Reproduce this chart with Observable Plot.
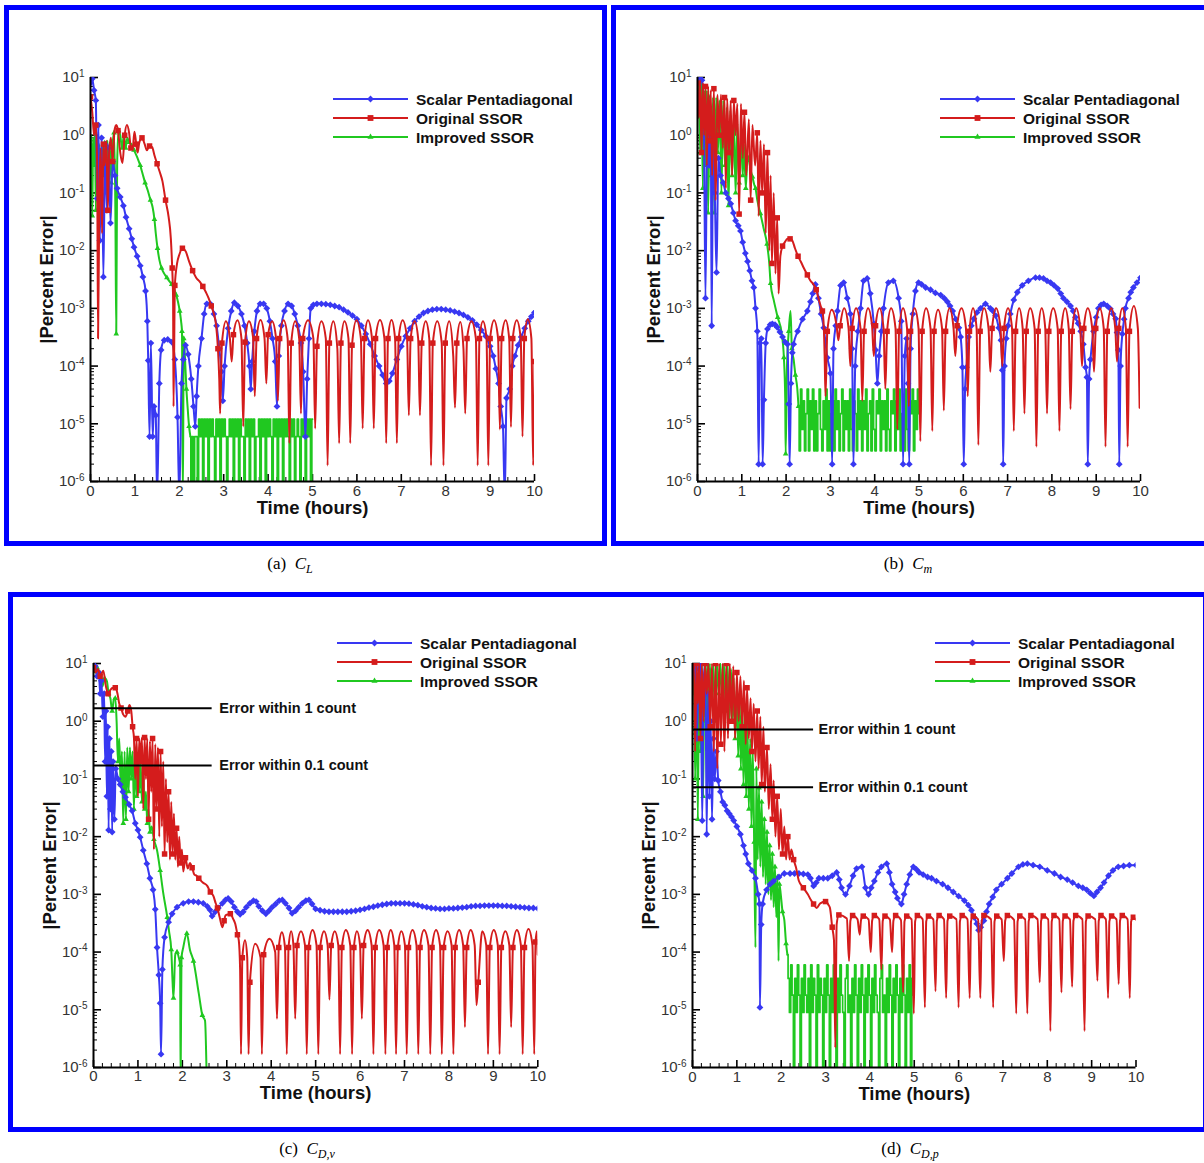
<!DOCTYPE html>
<html><head><meta charset="utf-8">
<script src="https://cdn.jsdelivr.net/npm/d3@7"></script>
<script src="https://cdn.jsdelivr.net/npm/@observablehq/plot@0.6"></script>
<style>
html,body{margin:0;padding:0;background:#fff}
body{width:1204px;height:1163px;position:relative;overflow:hidden;font-family:"Liberation Sans",Arial,Helvetica,sans-serif}
.box{position:absolute;border:5px solid #0000ff;box-sizing:border-box}
.cap{position:absolute;font-family:"Liberation Serif","Times New Roman",serif;font-size:17px;transform:translateX(-50%);white-space:nowrap;color:#000}
.cap sub{font-size:12px;font-style:italic}
svg{position:absolute}
</style></head><body>
<div class="box" style="left:4px;top:5px;width:603px;height:541px"></div>
<div class="box" style="left:611px;top:5px;width:600px;height:541px"></div>
<div class="box" style="left:8px;top:592px;width:1200px;height:540px"></div>
<div class="cap" style="left:290px;top:554px">(a)&nbsp;&nbsp;<i>C</i><sub>L</sub></div>
<div class="cap" style="left:908px;top:554px">(b)&nbsp;&nbsp;<i>C</i><sub>m</sub></div>
<div class="cap" style="left:307px;top:1139px">(c)&nbsp;&nbsp;<i>C</i><sub>D,v</sub></div>
<div class="cap" style="left:910px;top:1139px">(d)&nbsp;&nbsp;<i>C</i><sub>D,p</sub></div>
<script>
// ---------- labels / ticks ----------
const seriesNames = ["Scalar Pentadiagonal", "Original SSOR", "Improved SSOR"];
const xMajor = [0,1,2,3,4,5,6,7,8,9,10];
const xLabels = ["0","1","2","3","4","5","6","7","8","9","10"];
const yMajor = [1e-6,1e-5,1e-4,1e-3,1e-2,1e-1,1,10];
const yLabels = ["-6","-5","-4","-3","-2","-1","0","1"];
const annLabels = ["Error within 1 count", "Error within 0.1 count"];
const annC = [1.68, 0.171];
const annD = [0.72, 0.072];

// ---------- panel (a) C_L ----------
const blueA = [[0,8],[0.04,9.5],[0.08,6],[0.12,4],[0.15,0.08],[0.18,1.5],[0.21,0.015],[0.25,0.9],[0.29,0.0035],[0.33,0.7],[0.37,0.05],[0.41,0.6],[0.45,0.03],[0.5,0.35],[0.55,0.2],[0.6,0.12],[0.67,0.085],[0.74,0.06],[0.8,0.038],[0.87,0.024],[0.93,0.016],[0.98,0.0115],[1.05,0.008],[1.12,0.0055],[1.18,0.0035],[1.24,0.002],[1.28,0.0006],[1.3,1.25e-4],[1.33,6e-6],[1.36,2.5e-4],[1.4,6e-6],[1.43,2e-5],[1.47,1.4e-5],[1.5,5e-7],[1.55,5e-5],[1.59,1.9e-4],[1.66,2.8e-4],[1.74,2.9e-4],[1.83,2.6e-4],[1.9,1.3e-4],[1.96,1.3e-5],[2.0,5e-7],[2.05,5e-5],[2.09,1.3e-4],[2.14,2.3e-4],[2.2,1.6e-4],[2.27,6e-5],[2.32,2e-5],[2.36,9e-6],[2.39,3e-5],[2.43,1e-4],[2.5,3e-4],[2.56,8e-4],[2.62,1.2e-3],[2.7,1.2e-3],[2.78,8e-4],[2.84,5e-4],[2.9,2e-4],[2.95,8e-5],[2.98,2.5e-5],[3.02,1e-4],[3.1,4.5e-4],[3.17,9e-4],[3.24,1.25e-3],[3.32,1.1e-3],[3.4,8e-4],[3.47,5e-4],[3.53,2.5e-4],[3.58,1e-4],[3.61,4e-5],[3.64,1.2e-4],[3.69,4e-4],[3.75,9e-4],[3.82,1.2e-3],[3.9,1.2e-3],[3.97,1e-3],[4.04,6e-4],[4.1,3e-4],[4.16,1.2e-4],[4.2,2e-5],[4.24,1.5e-4],[4.3,5e-4],[4.37,9e-4],[4.45,1.2e-3],[4.53,1.1e-3],[4.6,8e-4],[4.67,5e-4],[4.74,2.5e-4],[4.79,8e-5],[4.84,6e-6],[4.88,6e-5],[4.92,3e-4],[4.96,1e-3],[5.02,1.15e-3],[5.1,1.2e-3],[5.2,1.2e-3],[5.3,1.18e-3],[5.4,1.15e-3],[5.5,1.1e-3],[5.6,1.05e-3],[5.7,9.5e-4],[5.8,8.5e-4],[5.9,7.5e-4],[6.0,6.5e-4],[6.1,5e-4],[6.2,3.6e-4],[6.3,2.4e-4],[6.4,1.5e-4],[6.5,1e-4],[6.58,7e-5],[6.66,5e-5],[6.73,5.5e-5],[6.8,7.5e-5],[6.9,1.3e-4],[7.0,2.2e-4],[7.1,3.3e-4],[7.2,4.5e-4],[7.3,6e-4],[7.4,7.2e-4],[7.5,8.3e-4],[7.6,9e-4],[7.7,9.5e-4],[7.8,9.7e-4],[7.9,9.7e-4],[8.0,9.5e-4],[8.1,9.2e-4],[8.2,8.8e-4],[8.3,8.3e-4],[8.4,7.7e-4],[8.5,7e-4],[8.6,6.2e-4],[8.7,5.2e-4],[8.8,4.2e-4],[8.9,3.3e-4],[9.0,2.2e-4],[9.07,1.5e-4],[9.13,9e-5],[9.19,5e-5],[9.24,2e-5],[9.29,9e-6],[9.33,5e-7],[9.37,2.8e-5],[9.44,4e-5],[9.5,1e-4],[9.56,1.5e-4],[9.63,2.3e-4],[9.7,3.2e-4],[9.78,4.5e-4],[9.86,6e-4],[9.93,7.2e-4],[10,8.5e-4]];
const redA_early = [[0,4.6],[0.04,2.5],[0.08,1],[0.12,1.5],[0.15,0.3],[0.17,3e-4],[0.2,0.1],[0.23,0.6],[0.26,0.02],[0.29,0.7],[0.32,0.3],[0.36,0.8],[0.39,0.05],[0.42,0.5],[0.46,0.9],[0.5,0.35],[0.54,1.2],[0.58,1.5],[0.62,1.2],[0.67,0.5],[0.72,0.33],[0.77,1.0],[0.82,1.5],[0.87,1.1],[0.91,0.6],[0.95,0.6],[0.99,1.15],[1.03,0.7],[1.06,0.5],[1.1,0.75],[1.16,0.9],[1.22,0.7],[1.27,0.55],[1.33,0.65],[1.39,0.62],[1.44,0.45],[1.5,0.32],[1.56,0.23],[1.62,0.16],[1.69,0.075],[1.76,0.038],[1.81,0.016],[1.84,0.005],[1.86,0.0015],[1.87,2e-5],[1.9,0.0025],[1.95,0.006],[2.0,0.0085],[2.07,0.011],[2.15,0.0095],[2.22,0.0065],[2.3,0.0045],[2.38,0.0034],[2.46,0.0029],[2.53,0.0024],[2.6,0.0019],[2.66,0.0015],[2.72,0.0011],[2.78,8e-4],[2.83,5e-4],[2.87,2e-4],[2.9,6e-5]];
const redA_arches = [[2.92,1.5e-5],[2.96,2.5e-4],[3.05,6e-4],[3.14,3e-4],[3.18,1.2e-4],[3.22,3.5e-4],[3.31,6.2e-4],[3.40,3e-4],[3.44,9e-6],[3.48,2.6e-4],[3.57,6e-4],[3.66,3.2e-4],[3.70,3e-5],[3.74,3e-4],[3.83,6.3e-4],[3.92,3e-4],[3.96,5e-5],[4.0,3.5e-4],[4.09,6e-4],[4.18,3e-4],[4.22,2.5e-5],[4.26,3e-4],[4.35,6.2e-4],[4.44,3e-4],[4.48,4.6e-6],[4.52,2.5e-4],[4.61,6e-4],[4.70,3e-4],[4.74,1.5e-5],[4.78,3e-4],[4.90,6.2e-4],[5.02,3e-4],[5.06,8.3e-6],[5.10,2.2e-4],[5.20,6e-4],[5.30,3e-4],[5.34,1.9e-6],[5.38,2.5e-4],[5.47,6e-4],[5.56,2e-4],[5.60,4.6e-6],[5.64,2.5e-4],[5.72,6e-4],[5.81,3e-4],[5.85,4.6e-6],[5.89,2.3e-4],[5.99,6.2e-4],[6.09,3e-4],[6.13,8.3e-6],[6.17,3e-4],[6.25,6.2e-4],[6.34,3e-4],[6.38,8.3e-6],[6.42,3e-4],[6.52,6.3e-4],[6.62,3e-4],[6.66,4.6e-6],[6.70,3e-4],[6.78,6.3e-4],[6.86,3e-4],[6.90,4.6e-6],[6.94,3e-4],[7.03,6.2e-4],[7.13,3e-4],[7.17,1.4e-5],[7.21,3e-4],[7.30,6e-4],[7.38,3e-4],[7.42,1.4e-5],[7.46,2.5e-4],[7.55,6e-4],[7.63,3e-4],[7.67,1.9e-6],[7.71,2.5e-4],[7.81,6e-4],[7.91,2.5e-4],[7.95,1.9e-6],[7.99,2.5e-4],[8.08,6e-4],[8.17,1.5e-4],[8.21,1.9e-5],[8.25,2.5e-4],[8.33,5.8e-4],[8.40,2e-4],[8.44,1.5e-5],[8.48,3e-4],[8.58,6e-4],[8.68,3e-4],[8.72,1.9e-6],[8.76,3e-4],[8.84,6e-4],[8.92,3e-4],[8.96,1.9e-6],[9.0,3e-4],[9.09,6.2e-4],[9.18,3e-4],[9.22,8e-6],[9.26,3e-4],[9.35,6.2e-4],[9.43,3e-4],[9.47,8.8e-6],[9.51,3e-4],[9.60,6.2e-4],[9.69,3e-4],[9.73,6e-6],[9.77,3e-4],[9.85,6.5e-4],[9.93,3e-4],[9.97,1.9e-6],[10,1.2e-4]];
const greenA_early = [[0,0.5],[0.02,1.0],[0.04,0.04],[0.06,0.9],[0.08,0.3],[0.1,1.3],[0.12,0.05],[0.14,0.8],[0.17,0.15],[0.2,0.7],[0.23,0.04],[0.26,0.75],[0.29,0.2],[0.32,0.8],[0.35,0.1],[0.38,0.8],[0.41,0.3],[0.44,0.6],[0.47,0.15],[0.5,0.7],[0.53,1.1],[0.56,0.05],[0.58,3.6e-4],[0.6,0.3],[0.63,1.2],[0.67,1.0],[0.71,0.6],[0.75,1.0],[0.79,0.6],[0.83,0.9],[0.87,0.75],[0.92,0.7],[0.98,0.55],[1.06,0.4],[1.12,0.3],[1.17,0.22],[1.23,0.15],[1.29,0.11],[1.35,0.075],[1.4,0.056],[1.44,0.035],[1.47,0.02],[1.51,0.011],[1.55,0.007],[1.6,0.005],[1.66,0.004],[1.72,0.0034],[1.77,0.003],[1.83,0.0026],[1.88,0.0022],[1.93,0.0017],[1.97,0.0013],[2.01,9e-4],[2.04,6e-4],[2.06,4e-4],[2.08,5e-7],[2.1,3e-4],[2.13,1.3e-4],[2.16,4e-5],[2.19,1.8e-5],[2.22,9e-6],[2.25,6e-6]];
const greenA_noise = [[2.25,6e-6],[2.27,5e-7],[2.30,6e-6],[2.33,5e-7],[2.36,6e-6],[2.39,6e-6],[2.42,5e-7],[2.45,1.2e-5],[2.48,6e-6],[2.51,1.2e-5],[2.54,5e-7],[2.57,1.2e-5],[2.60,6e-6],[2.63,1.2e-5],[2.66,5e-7],[2.69,1.2e-5],[2.72,6e-6],[2.75,1.2e-5],[2.78,6e-6],[2.81,5e-7],[2.84,1.2e-5],[2.87,6e-6],[2.90,1.2e-5],[2.93,5e-7],[2.96,1.2e-5],[2.99,6e-6],[3.02,1.2e-5],[3.05,6e-6],[3.08,5e-7],[3.11,6e-6],[3.14,1.2e-5],[3.17,6e-6],[3.20,1.2e-5],[3.23,5e-7],[3.26,1.2e-5],[3.29,6e-6],[3.32,1.2e-5],[3.35,5e-7],[3.38,1.2e-5],[3.41,6e-6],[3.44,6e-6],[3.47,5e-7],[3.50,1.2e-5],[3.53,6e-6],[3.56,1.2e-5],[3.59,5e-7],[3.62,1.2e-5],[3.65,6e-6],[3.68,1.2e-5],[3.71,5e-7],[3.74,6e-6],[3.77,6e-6],[3.80,1.2e-5],[3.83,5e-7],[3.86,1.2e-5],[3.89,6e-6],[3.92,1.2e-5],[3.95,5e-7],[3.98,1.2e-5],[4.01,6e-6],[4.04,1.2e-5],[4.07,6e-6],[4.10,5e-7],[4.13,1.2e-5],[4.16,6e-6],[4.19,1.2e-5],[4.22,5e-7],[4.25,1.2e-5],[4.28,6e-6],[4.31,1.2e-5],[4.34,5e-7],[4.37,1.2e-5],[4.40,6e-6],[4.43,1.2e-5],[4.46,6e-6],[4.49,5e-7],[4.52,1.2e-5],[4.55,6e-6],[4.58,1.2e-5],[4.61,5e-7],[4.64,6e-6],[4.67,1.2e-5],[4.70,6e-6],[4.73,5e-7],[4.76,1.2e-5],[4.79,6e-6],[4.82,1.2e-5],[4.85,5e-7],[4.88,1.2e-5],[4.91,6e-6],[4.94,1.2e-5],[4.97,5e-7],[5.00,1.2e-5]];

// ---------- panel (b) C_m ----------
const blueB = [[0,9],[0.05,10],[0.1,9],[0.14,3],[0.18,1.5e-3],[0.22,2],[0.26,0.3],[0.3,1],[0.32,5e-4],[0.35,0.6],[0.39,0.1],[0.43,4.2e-3],[0.47,0.4],[0.52,0.2],[0.58,0.15],[0.64,0.1],[0.7,0.08],[0.75,0.065],[0.81,0.045],[0.86,0.033],[0.92,0.027],[0.97,0.022],[1.02,0.014],[1.08,0.009],[1.13,0.0065],[1.18,0.0045],[1.23,0.003],[1.27,0.0023],[1.31,0.001],[1.35,4e-4],[1.38,2e-6],[1.41,2.5e-4],[1.44,3e-4],[1.47,2e-6],[1.5,2.6e-5],[1.54,2.5e-4],[1.58,4.4e-4],[1.64,5.2e-4],[1.69,5.4e-4],[1.75,5.2e-4],[1.8,4.7e-4],[1.86,3.9e-4],[1.92,3.2e-4],[1.98,2.6e-4],[2.03,2.4e-4],[2.06,2.2e-5],[2.08,2e-6],[2.11,5e-5],[2.14,1.7e-4],[2.17,2.4e-4],[2.26,4e-4],[2.37,6.5e-4],[2.48,9e-4],[2.55,1.3e-3],[2.6,1.8e-3],[2.66,2.6e-3],[2.73,1.5e-3],[2.79,8e-4],[2.85,4.6e-4],[2.93,1.4e-4],[3.0,7.5e-5],[3.04,2e-6],[3.07,2e-4],[3.12,5e-4],[3.16,9e-4],[3.23,2.5e-3],[3.3,2.8e-3],[3.38,1.5e-3],[3.45,8e-4],[3.49,2e-4],[3.52,2e-6],[3.56,1e-4],[3.62,4e-4],[3.68,1e-3],[3.75,3e-3],[3.83,3.3e-3],[3.9,1.8e-3],[3.98,5.4e-4],[4.02,1.9e-4],[4.06,5e-5],[4.1,1.5e-4],[4.15,4e-4],[4.2,1e-3],[4.31,2.8e-3],[4.42,3e-3],[4.54,1.5e-3],[4.6,6e-4],[4.64,2e-6],[4.68,1.5e-4],[4.72,3e-4],[4.75,5e-5],[4.78,2e-6],[4.81,2e-4],[4.86,8e-4],[4.92,2e-3],[4.99,2.8e-3],[5.06,2.6e-3],[5.15,2.3e-3],[5.26,2.1e-3],[5.37,1.85e-3],[5.49,1.7e-3],[5.57,1.5e-3],[5.64,1.3e-3],[5.7,1.1e-3],[5.76,9e-4],[5.83,6.5e-4],[5.9,4.6e-4],[5.94,3.2e-4],[5.98,9.5e-5],[6.01,2e-6],[6.04,4e-5],[6.07,9.5e-5],[6.12,3.2e-4],[6.18,5e-4],[6.24,6.6e-4],[6.31,8.5e-4],[6.39,1e-3],[6.5,1.2e-3],[6.61,1e-3],[6.67,9e-4],[6.73,7.5e-4],[6.8,4.6e-4],[6.85,2.8e-4],[6.88,8.5e-5],[6.9,2e-6],[6.93,1e-4],[6.97,3e-4],[7.01,5e-4],[7.06,8e-4],[7.14,1.4e-3],[7.22,1.9e-3],[7.33,2.5e-3],[7.47,3e-3],[7.63,3.4e-3],[7.72,3.4e-3],[7.81,3.3e-3],[7.89,3e-3],[7.97,2.8e-3],[8.05,2.5e-3],[8.13,2.2e-3],[8.2,1.8e-3],[8.26,1.5e-3],[8.34,1.3e-3],[8.42,1.1e-3],[8.48,9e-4],[8.53,7e-4],[8.59,5.5e-4],[8.65,4e-4],[8.71,2.4e-4],[8.76,9.5e-5],[8.79,6.4e-5],[8.81,2e-6],[8.84,6e-5],[8.87,1.3e-4],[8.94,4e-4],[9.0,7e-4],[9.05,1e-3],[9.11,1.15e-3],[9.17,1.2e-3],[9.25,1.1e-3],[9.32,9.8e-4],[9.38,8e-4],[9.44,6.6e-4],[9.47,3.8e-4],[9.5,1.9e-4],[9.52,2e-6],[9.55,1e-4],[9.59,3.6e-4],[9.63,6.5e-4],[9.66,1e-3],[9.73,1.5e-3],[9.78,1.9e-3],[9.84,2.3e-3],[9.92,2.8e-3],[10,3.4e-3]];
const redB_early = [[0,8],[0.03,2],[0.06,9],[0.09,0.5],[0.12,8],[0.15,1],[0.18,7],[0.21,0.3],[0.24,7],[0.27,0.8],[0.3,6],[0.33,0.2],[0.37,6.4],[0.41,0.075],[0.45,5],[0.49,1],[0.53,5],[0.57,0.6],[0.61,4.5],[0.64,0.12],[0.67,4.3],[0.71,0.5],[0.75,4],[0.78,0.2],[0.82,4],[0.86,1],[0.9,3.5],[0.94,0.043],[0.98,3.5],[1.02,0.4],[1.06,2.5],[1.1,0.2],[1.16,1.9],[1.2,0.075],[1.24,1.5],[1.3,0.3],[1.35,1.1],[1.38,0.04],[1.42,0.8],[1.46,0.1],[1.5,0.7],[1.54,0.02],[1.58,0.5],[1.62,0.01],[1.65,0.2],[1.68,0.006],[1.72,0.1],[1.76,0.004],[1.8,0.037],[1.83,0.0018],[1.87,0.008],[1.92,0.012],[1.97,0.014],[2.03,0.016],[2.09,0.016],[2.14,0.015],[2.2,0.011],[2.27,0.008],[2.33,0.0065],[2.4,0.005],[2.48,0.0038],[2.55,0.003],[2.62,0.0026],[2.68,0.0021],[2.73,0.0015],[2.78,0.0011],[2.82,9e-4],[2.85,5e-4],[2.87,1.5e-4]];
const redB_arches = [[2.89,3e-5],[2.93,4e-4],[3.03,9.5e-4],[3.14,5e-4],[3.18,2.8e-4],[3.22,5e-4],[3.31,1e-3],[3.41,4.5e-4],[3.45,1e-4],[3.49,4.5e-4],[3.58,1e-3],[3.68,4.5e-4],[3.72,2.5e-5],[3.76,4e-4],[3.85,1e-3],[3.94,5e-4],[3.98,1.5e-4],[4.02,5e-4],[4.11,1e-3],[4.2,4.5e-4],[4.24,4e-5],[4.28,4e-4],[4.37,1e-3],[4.47,4.5e-4],[4.51,8e-6],[4.55,4e-4],[4.64,1e-3],[4.73,4.5e-4],[4.77,2e-5],[4.81,4e-4],[4.9,1e-3],[4.99,4.5e-4],[5.03,5e-6],[5.07,4e-4],[5.16,1e-3],[5.26,4.5e-4],[5.30,7.5e-6],[5.34,4e-4],[5.43,9.5e-4],[5.52,4.5e-4],[5.56,1.7e-5],[5.6,4e-4],[5.69,1e-3],[5.78,4.5e-4],[5.82,1.5e-4],[5.86,5e-4],[5.96,1e-3],[6.06,4.5e-4],[6.10,3e-5],[6.14,4e-4],[6.22,1e-3],[6.3,4.5e-4],[6.34,4.3e-6],[6.38,4e-4],[6.47,1e-3],[6.57,4.5e-4],[6.61,8e-5],[6.65,4.5e-4],[6.74,1e-3],[6.84,4.5e-4],[6.88,1e-4],[6.92,4.5e-4],[7.01,1e-3],[7.1,4.5e-4],[7.14,7.5e-6],[7.18,4e-4],[7.26,1e-3],[7.34,4.5e-4],[7.38,1.5e-5],[7.42,4e-4],[7.51,1e-3],[7.61,4.5e-4],[7.65,4e-6],[7.69,4e-4],[7.77,1e-3],[7.85,4.5e-4],[7.89,1.5e-5],[7.93,4e-4],[8.03,1e-3],[8.13,4.5e-4],[8.17,7.5e-6],[8.21,4e-4],[8.3,1e-3],[8.38,4.5e-4],[8.42,1.8e-5],[8.46,4e-4],[8.55,1e-3],[8.64,4.5e-4],[8.68,1e-4],[8.72,4.5e-4],[8.81,1e-3],[8.91,4.5e-4],[8.95,8e-5],[8.99,4.5e-4],[9.08,1e-3],[9.17,4.5e-4],[9.21,4e-6],[9.25,4e-4],[9.34,1e-3],[9.43,4.5e-4],[9.47,1.2e-4],[9.51,4.5e-4],[9.59,1e-3],[9.67,4.5e-4],[9.71,4e-6],[9.75,4e-4],[9.85,1.1e-3],[9.94,4.5e-4],[9.98,1.9e-5]];
const greenB_early = [[0,5],[0.03,8],[0.06,0.5],[0.09,8],[0.12,0.12],[0.15,6],[0.18,0.3],[0.21,6],[0.24,0.045],[0.28,5],[0.31,0.2],[0.35,4.5],[0.38,0.045],[0.42,4.5],[0.46,0.5],[0.5,4],[0.54,0.1],[0.58,4],[0.62,0.3],[0.66,3],[0.7,0.06],[0.74,2.7],[0.78,0.2],[0.82,2],[0.86,0.1],[0.9,1.6],[0.94,0.15],[0.98,1.1],[1.02,0.2],[1.05,0.7],[1.09,0.12],[1.13,0.45],[1.16,0.37],[1.2,0.25],[1.24,0.19],[1.28,0.14],[1.31,0.12],[1.35,0.075],[1.42,0.044],[1.49,0.025],[1.57,0.013],[1.62,0.006],[1.65,0.0027],[1.72,0.0014],[1.81,7e-4],[1.9,3.7e-4],[1.95,1.4e-4],[1.98,2.8e-5],[1.99,3e-6],[2.02,1e-4],[2.06,4e-4],[2.1,9e-4],[2.13,2e-4],[2.17,1.3e-4],[2.21,7e-5],[2.25,4.3e-5],[2.28,2e-5]];
const greenB_noise = [[2.28,2e-5],[2.31,3.4e-6],[2.34,4e-5],[2.37,8e-6],[2.40,2.5e-5],[2.43,3.4e-6],[2.46,1.5e-5],[2.49,4e-5],[2.52,3.4e-6],[2.55,2.5e-5],[2.58,8e-6],[2.61,4e-5],[2.64,3.4e-6],[2.67,2.5e-5],[2.70,3.4e-6],[2.73,1.5e-5],[2.76,4e-5],[2.79,8e-6],[2.82,3.4e-6],[2.85,2.5e-5],[2.88,8e-6],[2.91,4e-5],[2.94,3.4e-6],[2.97,2.5e-5],[3.00,3.4e-6],[3.03,1.5e-5],[3.06,2.5e-5],[3.09,3.4e-6],[3.12,4e-5],[3.15,8e-6],[3.18,2.5e-5],[3.21,3.4e-6],[3.24,1.5e-5],[3.27,4e-5],[3.30,3.4e-6],[3.33,2.5e-5],[3.36,8e-6],[3.39,2.5e-5],[3.42,3.4e-6],[3.45,4e-5],[3.48,8e-6],[3.51,3.4e-6],[3.54,2.5e-5],[3.57,1.5e-5],[3.60,3.4e-6],[3.63,4e-5],[3.66,8e-6],[3.69,2.5e-5],[3.72,3.4e-6],[3.75,2.5e-5],[3.78,8e-6],[3.81,4e-5],[3.84,3.4e-6],[3.87,1.5e-5],[3.90,2.5e-5],[3.93,3.4e-6],[3.96,4e-5],[3.99,8e-6],[4.02,3.4e-6],[4.05,2.5e-5],[4.08,1.5e-5],[4.11,4e-5],[4.14,3.4e-6],[4.17,2.5e-5],[4.20,8e-6],[4.23,2.5e-5],[4.26,3.4e-6],[4.29,4e-5],[4.32,8e-6],[4.35,3.4e-6],[4.38,2.5e-5],[4.41,1.5e-5],[4.44,4e-5],[4.47,3.4e-6],[4.50,2.5e-5],[4.53,8e-6],[4.56,4e-5],[4.59,3.4e-6],[4.62,1.5e-5],[4.65,2.5e-5],[4.68,3.4e-6],[4.71,4e-5],[4.74,8e-6],[4.77,3.4e-6],[4.80,2.5e-5],[4.83,1.5e-5],[4.86,4e-5],[4.89,3.4e-6],[4.92,2.5e-5],[4.95,8e-6],[4.98,4e-5],[5.00,1.5e-5]];

// ---------- panel (c) C_D,v ----------
const blueC = [[0,8.5],[0.04,9],[0.08,6],[0.12,7],[0.15,3],[0.18,5],[0.21,1.2],[0.24,3],[0.26,0.2],[0.28,1.5],[0.3,0.05],[0.32,0.8],[0.34,0.013],[0.36,0.5],[0.38,0.03],[0.4,0.3],[0.42,0.012],[0.44,0.2],[0.47,0.02],[0.5,0.15],[0.55,0.1],[0.6,0.08],[0.66,0.06],[0.72,0.048],[0.8,0.036],[0.87,0.028],[0.94,0.017],[1.0,0.013],[1.05,0.0098],[1.12,0.0058],[1.2,0.0034],[1.27,0.0019],[1.34,0.0012],[1.39,5.5e-4],[1.43,1.2e-4],[1.47,4e-5],[1.5,1.3e-5],[1.52,1.7e-6],[1.55,5e-5],[1.6,1.8e-4],[1.69,3.3e-4],[1.77,4.6e-4],[1.88,6e-4],[2.02,7e-4],[2.14,7.5e-4],[2.25,7.5e-4],[2.36,7.3e-4],[2.47,7e-4],[2.56,6.2e-4],[2.62,5.4e-4],[2.67,4.2e-4],[2.74,5e-4],[2.81,5.8e-4],[2.9,7e-4],[2.97,8e-4],[3.03,8.5e-4],[3.1,7.5e-4],[3.17,6e-4],[3.24,5e-4],[3.3,4.5e-4],[3.37,5e-4],[3.44,6e-4],[3.52,7e-4],[3.6,7.8e-4],[3.66,7.5e-4],[3.72,6.2e-4],[3.8,5.2e-4],[3.88,4.6e-4],[3.95,5.2e-4],[4.02,6e-4],[4.1,6.8e-4],[4.18,7.8e-4],[4.25,8e-4],[4.32,7e-4],[4.4,5.8e-4],[4.47,4.7e-4],[4.55,5.2e-4],[4.62,6e-4],[4.7,7e-4],[4.78,7.8e-4],[4.85,8e-4],[4.92,6.8e-4],[5.0,5.6e-4],[5.1,5.3e-4],[5.2,5.1e-4],[5.3,5e-4],[5.4,5e-4],[5.5,5e-4],[5.6,5e-4],[5.7,5e-4],[5.8,5.1e-4],[5.9,5.2e-4],[6.0,5.4e-4],[6.1,5.6e-4],[6.2,5.9e-4],[6.3,6.1e-4],[6.4,6.4e-4],[6.5,6.6e-4],[6.6,6.8e-4],[6.7,7e-4],[6.8,7e-4],[6.9,7e-4],[7.0,7e-4],[7.1,6.9e-4],[7.2,6.7e-4],[7.3,6.5e-4],[7.4,6.2e-4],[7.5,6e-4],[7.6,5.8e-4],[7.7,5.7e-4],[7.8,5.6e-4],[7.9,5.6e-4],[8.0,5.7e-4],[8.1,5.7e-4],[8.2,5.8e-4],[8.3,5.9e-4],[8.4,6e-4],[8.5,6.2e-4],[8.6,6.3e-4],[8.7,6.3e-4],[8.8,6.4e-4],[8.9,6.4e-4],[9.0,6.4e-4],[9.1,6.4e-4],[9.2,6.3e-4],[9.3,6.3e-4],[9.4,6.2e-4],[9.5,6.1e-4],[9.6,6e-4],[9.7,5.9e-4],[9.8,5.8e-4],[9.9,5.8e-4],[10,5.7e-4]];
const redC_early = [[0,8.5],[0.05,7],[0.1,8],[0.15,6],[0.22,7.5],[0.28,4],[0.33,3],[0.38,3.5],[0.44,3.8],[0.49,3.8],[0.54,3],[0.58,2],[0.62,1.7],[0.67,1.3],[0.72,1.2],[0.77,1.5],[0.81,1.9],[0.85,1.5],[0.88,0.8],[0.91,0.52],[0.94,0.1],[0.97,0.5],[1.0,0.05],[1.03,0.5],[1.06,0.2],[1.09,0.52],[1.12,0.03],[1.15,0.52],[1.18,0.1],[1.21,0.5],[1.24,0.02],[1.27,0.45],[1.3,0.06],[1.33,0.5],[1.36,0.006],[1.39,0.4],[1.42,0.03],[1.45,0.35],[1.48,0.01],[1.51,0.3],[1.54,0.015],[1.57,0.2],[1.6,0.005],[1.63,0.1],[1.66,0.008],[1.69,0.06],[1.72,0.004],[1.75,0.04],[1.78,0.005],[1.81,0.025],[1.84,0.004],[1.87,0.014],[1.9,0.003],[1.93,0.01],[1.96,0.0035],[1.99,0.006],[2.02,0.0025],[2.07,0.0043],[2.12,0.0028],[2.17,0.0035],[2.22,0.0029],[2.27,0.0022],[2.32,0.0021],[2.37,0.0019],[2.46,0.0016],[2.56,0.0014],[2.63,0.0011],[2.7,9.3e-4],[2.75,7e-4],[2.79,5.8e-4],[2.84,4e-4],[2.9,2.7e-4],[2.94,3.5e-4],[2.97,4.3e-4],[3.03,4.5e-4],[3.08,4.6e-4],[3.14,3.8e-4],[3.19,3.1e-4],[3.24,2e-4],[3.27,1.6e-4],[3.3,5e-5]];
const redC_arches = [[3.32,1.7e-6],[3.35,8e-5],[3.41,1.6e-4],[3.46,8e-5],[3.49,1.7e-6],[3.52,3e-5],[3.64,1.4e-4],[3.76,8e-5],[3.79,1.7e-6],[3.83,9e-5],[3.96,1.7e-4],[4.09,1e-4],[4.13,7e-6],[4.17,1.2e-4],[4.24,2.2e-4],[4.31,1.2e-4],[4.35,1.7e-6],[4.39,1.2e-4],[4.45,2.3e-4],[4.5,1.3e-4],[4.54,7e-6],[4.58,1.3e-4],[4.67,2.3e-4],[4.76,1.3e-4],[4.8,1.7e-6],[4.84,1.2e-4],[4.93,2.4e-4],[5.02,1.3e-4],[5.06,1.7e-6],[5.1,1.2e-4],[5.19,2.3e-4],[5.27,1.3e-4],[5.31,1.5e-5],[5.35,1.3e-4],[5.43,2.3e-4],[5.51,1.3e-4],[5.55,1.7e-6],[5.59,1.2e-4],[5.68,2.4e-4],[5.78,1.3e-4],[5.82,1.7e-6],[5.86,1.2e-4],[5.93,2.3e-4],[6.0,1.3e-4],[6.04,7e-6],[6.08,1.3e-4],[6.17,2.4e-4],[6.26,1.3e-4],[6.3,1.7e-6],[6.34,1.2e-4],[6.43,2.4e-4],[6.53,1.3e-4],[6.57,1.7e-6],[6.61,1.2e-4],[6.69,2.4e-4],[6.77,1.3e-4],[6.81,1.7e-6],[6.85,1.2e-4],[6.93,2.3e-4],[7.01,1.3e-4],[7.05,1.7e-6],[7.09,1.2e-4],[7.18,2.4e-4],[7.27,1.3e-4],[7.31,1.7e-6],[7.35,1.2e-4],[7.44,2.4e-4],[7.54,1.3e-4],[7.58,1.7e-6],[7.62,1.2e-4],[7.71,2.4e-4],[7.8,1.3e-4],[7.84,1.7e-6],[7.88,1.2e-4],[7.97,2.3e-4],[8.06,1.3e-4],[8.1,1.7e-6],[8.14,1.2e-4],[8.23,2.4e-4],[8.32,1.3e-4],[8.36,5e-6],[8.4,1.2e-4],[8.49,2.4e-4],[8.58,1.3e-4],[8.62,1.2e-5],[8.66,3e-5],[8.75,2.3e-4],[8.84,1.3e-4],[8.88,1.7e-6],[8.92,1.2e-4],[9.01,2.4e-4],[9.1,1.3e-4],[9.14,1.7e-6],[9.18,1.2e-4],[9.27,2.3e-4],[9.36,1.3e-4],[9.4,5e-6],[9.44,1.2e-4],[9.53,2.4e-4],[9.62,1.3e-4],[9.66,1.7e-6],[9.7,1.2e-4],[9.79,2.5e-4],[9.88,1.3e-4],[9.92,1.7e-6],[9.95,1.5e-4],[9.98,2.3e-4],[10,9e-5]];
const greenC_early = [[0,8],[0.04,7],[0.08,8.5],[0.12,6],[0.15,6.7],[0.2,4],[0.25,5.5],[0.3,5],[0.34,3],[0.38,2.5],[0.42,1.5],[0.46,2.5],[0.49,2.5],[0.52,1],[0.55,0.2],[0.58,0.5],[0.61,0.08],[0.64,0.3],[0.67,0.017],[0.7,0.3],[0.73,0.02],[0.76,0.35],[0.79,0.06],[0.82,0.35],[0.85,0.1],[0.88,0.3],[0.91,0.03],[0.94,0.3],[0.97,0.05],[1.0,0.25],[1.03,0.06],[1.06,0.2],[1.09,0.04],[1.12,0.12],[1.15,0.03],[1.18,0.06],[1.21,0.017],[1.24,0.03],[1.27,0.012],[1.31,0.015],[1.36,0.009],[1.43,0.0058],[1.5,0.0026],[1.57,0.00105],[1.66,4e-4],[1.7,2.3e-4],[1.75,1.1e-4],[1.78,3e-5],[1.8,1.6e-5],[1.84,9e-5],[1.88,1e-4],[1.92,8e-5],[1.95,6e-5],[1.96,5e-7],[1.98,8e-5],[2.02,1.2e-4],[2.1,2.1e-4],[2.17,1.1e-4],[2.25,7e-5],[2.37,1.9e-5],[2.45,8e-6],[2.51,6.5e-6],[2.55,5e-7]];

// ---------- panel (d) C_D,p ----------
const blueD = [[0,10],[0.05,9],[0.1,0.5],[0.14,8],[0.18,10],[0.22,0.019],[0.25,5],[0.29,10],[0.32,0.011],[0.35,3],[0.38,0.05],[0.41,1],[0.44,0.02],[0.47,0.5],[0.5,0.1],[0.54,0.3],[0.58,0.094],[0.63,0.06],[0.68,0.04],[0.73,0.035],[0.78,0.028],[0.83,0.025],[0.88,0.022],[0.93,0.019],[1.0,0.015],[1.08,0.011],[1.15,0.007],[1.2,0.005],[1.26,0.0034],[1.34,0.0026],[1.42,0.0019],[1.48,0.001],[1.51,6.8e-4],[1.52,1.1e-5],[1.55,3e-4],[1.58,6.8e-4],[1.67,1.2e-3],[1.75,1.5e-3],[1.83,1.7e-3],[1.95,2e-3],[2.07,2.3e-3],[2.2,2.3e-3],[2.3,2.3e-3],[2.4,2.3e-3],[2.5,2.25e-3],[2.6,2.2e-3],[2.66,1.9e-3],[2.73,1.4e-3],[2.79,1.6e-3],[2.85,1.9e-3],[2.95,1.9e-3],[3.05,1.9e-3],[3.15,2.1e-3],[3.25,2.4e-3],[3.31,1.8e-3],[3.36,1.3e-3],[3.45,1e-3],[3.54,1.4e-3],[3.62,2.1e-3],[3.7,2.8e-3],[3.82,3e-3],[3.9,1.3e-3],[3.97,1e-3],[4.03,1.3e-3],[4.1,1.7e-3],[4.18,2.4e-3],[4.26,3e-3],[4.38,3.4e-3],[4.44,2.4e-3],[4.5,1.5e-3],[4.57,1.1e-3],[4.62,8.6e-4],[4.71,6.8e-4],[4.77,1e-3],[4.83,1.5e-3],[4.9,2.2e-3],[4.98,3e-3],[5.05,2.7e-3],[5.11,2.4e-3],[5.2,2.2e-3],[5.3,2e-3],[5.39,1.9e-3],[5.5,1.7e-3],[5.64,1.5e-3],[5.76,1.3e-3],[5.88,1.1e-3],[6.0,9.3e-4],[6.13,7.8e-4],[6.22,6.5e-4],[6.29,5.3e-4],[6.35,4e-4],[6.41,3.1e-4],[6.45,2.4e-4],[6.5,2.7e-4],[6.57,3.5e-4],[6.63,5e-4],[6.69,6.8e-4],[6.77,9e-4],[6.85,1.2e-3],[6.97,1.5e-3],[7.1,1.9e-3],[7.2,2.3e-3],[7.35,3e-3],[7.45,3.3e-3],[7.55,3.4e-3],[7.68,3.2e-3],[7.83,3e-3],[8.0,2.6e-3],[8.16,2.3e-3],[8.3,2e-3],[8.45,1.8e-3],[8.57,1.6e-3],[8.7,1.4e-3],[8.8,1.3e-3],[8.89,1.2e-3],[8.97,1.05e-3],[9.05,9.4e-4],[9.12,1.1e-3],[9.2,1.3e-3],[9.28,1.6e-3],[9.38,2.1e-3],[9.48,2.6e-3],[9.6,3e-3],[9.72,3.1e-3],[9.85,3.2e-3],[10,3.2e-3]];
const redD_early = [[0,9],[0.03,10],[0.06,0.3],[0.09,10],[0.12,2],[0.15,10],[0.18,0.5],[0.21,10],[0.25,1],[0.28,10],[0.32,3],[0.36,10],[0.4,0.8],[0.44,10],[0.48,0.3],[0.52,10],[0.56,0.15],[0.6,10],[0.64,0.4],[0.68,10],[0.72,0.3],[0.76,10],[0.8,0.5],[0.84,10],[0.88,1],[0.92,9],[0.96,0.5],[1.0,7],[1.04,1],[1.08,6],[1.12,0.8],[1.16,5],[1.2,0.4],[1.23,3.8],[1.27,0.5],[1.31,2.5],[1.34,0.3],[1.38,2],[1.42,0.2],[1.46,1.5],[1.49,0.15],[1.53,1.2],[1.56,0.08],[1.6,0.8],[1.63,0.06],[1.68,0.35],[1.72,0.03],[1.76,0.18],[1.8,0.02],[1.83,0.094],[1.87,0.01],[1.91,0.05],[1.95,0.006],[1.99,0.03],[2.03,0.005],[2.07,0.015],[2.11,0.004],[2.15,0.01],[2.19,0.004],[2.23,0.006],[2.28,0.004],[2.33,0.003],[2.4,0.0017],[2.5,0.0013],[2.6,0.001],[2.67,8e-4],[2.73,6.8e-4],[2.8,5.8e-4],[2.88,7e-4],[3.0,7.5e-4],[3.07,6.5e-4],[3.1,5.8e-4],[3.15,2.7e-4],[3.19,1.6e-4]];
const redD_arches = [[3.22,2.2e-6],[3.25,3e-4],[3.3,4.4e-4],[3.48,3.8e-4],[3.53,7e-5],[3.56,3.5e-4],[3.61,4.3e-4],[3.72,3.7e-4],[3.77,2e-4],[3.8,3.6e-4],[3.85,4.2e-4],[3.97,3.7e-4],[4.02,1e-4],[4.05,3.5e-4],[4.1,4.3e-4],[4.21,3.7e-4],[4.26,5e-5],[4.29,3.5e-4],[4.34,4.2e-4],[4.45,3.7e-4],[4.5,1e-4],[4.53,3.5e-4],[4.58,4.3e-4],[4.7,3.6e-4],[4.75,2e-5],[4.78,3.4e-4],[4.83,4.2e-4],[4.94,3.7e-4],[4.99,8.6e-6],[5.02,3.4e-4],[5.07,4.3e-4],[5.19,3.7e-4],[5.24,1.1e-5],[5.27,3.4e-4],[5.32,4.2e-4],[5.43,3.7e-4],[5.48,2.1e-5],[5.51,3.5e-4],[5.56,4.3e-4],[5.67,3.7e-4],[5.72,1.6e-5],[5.75,3.5e-4],[5.8,4.2e-4],[5.95,3.7e-4],[6.0,1.1e-5],[6.03,3.4e-4],[6.08,4.3e-4],[6.2,3.7e-4],[6.25,1.6e-5],[6.28,3.4e-4],[6.33,4.2e-4],[6.44,3.7e-4],[6.49,1.6e-5],[6.52,3.4e-4],[6.57,4.3e-4],[6.73,3.7e-4],[6.78,1.1e-5],[6.81,3.4e-4],[6.86,4.2e-4],[6.97,3.7e-4],[7.02,7e-5],[7.05,3.5e-4],[7.1,4.3e-4],[7.25,3.6e-4],[7.3,8.6e-6],[7.33,3.4e-4],[7.38,4.2e-4],[7.5,3.7e-4],[7.55,8.6e-6],[7.58,3.4e-4],[7.63,4.3e-4],[7.78,3.7e-4],[7.83,3e-5],[7.86,3.5e-4],[7.91,4.2e-4],[8.02,3.7e-4],[8.07,4.3e-6],[8.1,3.4e-4],[8.15,4.3e-4],[8.27,3.7e-4],[8.32,2e-5],[8.35,3.5e-4],[8.4,4.2e-4],[8.51,3.7e-4],[8.56,2.5e-5],[8.59,3.5e-4],[8.64,4.3e-4],[8.79,3.7e-4],[8.84,4.3e-6],[8.87,3.4e-4],[8.92,4.2e-4],[9.08,3.7e-4],[9.13,3.2e-5],[9.16,3.5e-4],[9.21,4.3e-4],[9.32,3.7e-4],[9.37,1.6e-5],[9.4,3.4e-4],[9.45,4.2e-4],[9.56,3.7e-4],[9.61,2.8e-5],[9.64,3.5e-4],[9.69,4.3e-4],[9.81,3.7e-4],[9.86,1.6e-5],[9.89,3.4e-4],[9.94,4e-4],[10,3.6e-4]];
const greenD_early = [[0,3],[0.03,10],[0.06,0.1],[0.09,10],[0.12,0.02],[0.15,10],[0.18,0.3],[0.21,10],[0.24,0.05],[0.27,10],[0.3,1],[0.33,10],[0.36,0.2],[0.39,10],[0.43,2],[0.47,10],[0.51,1],[0.55,10],[0.59,3],[0.63,10],[0.67,2],[0.71,10],[0.75,1.5],[0.79,10],[0.83,1],[0.87,8],[0.9,1],[0.93,5.7],[0.96,0.5],[1.0,4],[1.03,0.25],[1.06,3],[1.09,0.15],[1.12,2],[1.15,0.08],[1.18,1.4],[1.21,0.05],[1.24,0.9],[1.27,0.03],[1.3,0.5],[1.33,0.015],[1.36,0.3],[1.39,0.008],[1.42,1.2e-4],[1.44,0.15],[1.47,0.004],[1.5,0.07],[1.53,0.003],[1.56,0.04],[1.59,0.002],[1.62,0.02],[1.65,0.0015],[1.68,0.012],[1.71,0.001],[1.74,0.007],[1.77,8e-4],[1.8,0.005],[1.83,6e-4],[1.86,0.003],[1.89,4e-4],[1.92,0.002],[1.94,7e-5],[1.96,0.0015],[1.99,1e-3],[2.03,5e-4],[2.07,3.6e-4],[2.11,1.4e-4],[2.14,9e-5]];
const greenD_noise = [[2.14,9e-5],[2.17,3.5e-5],[2.20,9e-6],[2.23,6e-5],[2.26,1.8e-5],[2.29,5e-7],[2.32,3.5e-5],[2.35,9e-6],[2.38,6e-5],[2.41,1.8e-5],[2.44,5e-7],[2.47,3.5e-5],[2.50,9e-6],[2.53,6e-5],[2.56,1.8e-5],[2.59,9e-6],[2.62,3.5e-5],[2.65,5e-7],[2.68,6e-5],[2.71,9e-6],[2.74,3.5e-5],[2.77,1.8e-5],[2.80,5e-7],[2.83,6e-5],[2.86,9e-6],[2.89,3.5e-5],[2.92,1.8e-5],[2.95,5e-7],[2.98,3.5e-5],[3.01,9e-6],[3.04,6e-5],[3.07,1.8e-5],[3.10,5e-7],[3.13,3.5e-5],[3.16,9e-6],[3.19,6e-5],[3.22,1.8e-5],[3.25,5e-7],[3.28,3.5e-5],[3.31,9e-6],[3.34,6e-5],[3.37,1.8e-5],[3.40,9e-6],[3.43,5e-7],[3.46,3.5e-5],[3.49,6e-5],[3.52,9e-6],[3.55,1.8e-5],[3.58,5e-7],[3.61,3.5e-5],[3.64,9e-6],[3.67,6e-5],[3.70,1.8e-5],[3.73,5e-7],[3.76,3.5e-5],[3.79,9e-6],[3.82,6e-5],[3.85,1.8e-5],[3.88,5e-7],[3.91,3.5e-5],[3.94,9e-6],[3.97,6e-5],[4.00,1.8e-5],[4.03,5e-7],[4.06,3.5e-5],[4.09,9e-6],[4.12,6e-5],[4.15,1.8e-5],[4.18,9e-6],[4.21,5e-7],[4.24,3.5e-5],[4.27,6e-5],[4.30,9e-6],[4.33,1.8e-5],[4.36,5e-7],[4.39,3.5e-5],[4.42,9e-6],[4.45,6e-5],[4.48,1.8e-5],[4.51,5e-7],[4.54,3.5e-5],[4.57,9e-6],[4.60,6e-5],[4.63,1.8e-5],[4.66,5e-7],[4.69,3.5e-5],[4.72,9e-6],[4.75,6e-5],[4.78,1.8e-5],[4.81,5e-7],[4.84,3.5e-5],[4.87,9e-6],[4.90,6e-5],[4.93,5e-7],[4.96,3.5e-5],[4.98,1.8e-5],[5.00,6e-5]];

// ---------- drawing ----------
const BLUE = "#3838f2", RED = "#d41c1c", GREEN = "#20c820";
const FONT = "'Liberation Sans', Arial, Helvetica, sans-serif";
const diamondSym = {draw(ctx, size) { const r = Math.sqrt(size) * 0.62; ctx.moveTo(0, -r); ctx.lineTo(r, 0); ctx.lineTo(0, r); ctx.lineTo(-r, 0); ctx.closePath(); }};
const xMinor = [];
for (let i = 0; i < 10; i++) for (let k = 1; k < 5; k++) xMinor.push(i + k * 0.2);
const yMinor = [];
for (let e = -6; e < 1; e++) for (let m = 2; m < 10; m++) yMinor.push(m * Math.pow(10, e));

const panels = [
  {x0: 89.5, x10: 533.5, ytop: 77, ybot: 481, blue: blueA, redE: redA_early, redR: redA_arches, redRole: 1, greenE: greenA_early, greenN: greenA_noise, leg: [333, 99], ann: null},
  {x0: 697, x10: 1140, ytop: 77, ybot: 481, blue: blueB, redE: redB_early, redR: redB_arches, redRole: 1, greenE: greenB_early, greenN: greenB_noise, leg: [940, 99], ann: null},
  {x0: 93.3, x10: 537.6, ytop: 663, ybot: 1067, blue: blueC, redE: redC_early, redR: redC_arches, redRole: 1, greenE: greenC_early, greenN: [], leg: [337, 643], ann: annC, annEnd: 2.67, annText: 2.83},
  {x0: 692, x10: 1135.5, ytop: 663, ybot: 1067, blue: blueD, redE: redD_early, redR: redD_arches, redRole: 2, greenE: greenD_early, greenN: greenD_noise, leg: [935, 643], ann: annD, annEnd: 2.73, annText: 2.84}
];

function drawPanel(p) {
  const mL = 92, mR = 56, mT = 24, mB = 56;
  const iw = p.x10 - p.x0, ih = p.ybot - p.ytop;
  const X = d => d[0], Y = d => d[1];
  const red = p.redE.concat(p.redR);
  const redMk = p.redE.filter((d, i) => i % 3 === 0).concat(p.redR.filter((d, i) => i % 4 === p.redRole));
  const greenMk = p.greenE.filter((d, i) => i % 2 === 0 && d[1] >= 1e-6);
  const blueMk = p.blue.filter(d => d[1] >= 1e-6);
  const marks = [
    Plot.tickX(xMinor, {x: d => d, insetTop: ih - 4, stroke: "#000", strokeWidth: 1}),
    Plot.tickX(xMajor, {x: d => d, insetTop: ih - 7, stroke: "#000", strokeWidth: 1.6}),
    Plot.tickY(yMinor, {y: d => d, insetRight: iw - 4, stroke: "#000", strokeWidth: 1}),
    Plot.tickY(yMajor, {y: d => d, insetRight: iw - 8, stroke: "#000", strokeWidth: 1.6}),
    Plot.line(p.greenE, {x: X, y: Y, stroke: GREEN, strokeWidth: 2, curve: "monotone-x", clip: true}),
    Plot.line(p.greenN, {x: X, y: Y, stroke: GREEN, strokeWidth: 1.7, curve: "step", clip: true}),
    Plot.dot(greenMk, {x: X, y: Y, symbol: "triangle", r: 2.1, fill: GREEN, clip: true}),
    Plot.line(p.blue, {x: X, y: Y, stroke: BLUE, strokeWidth: 2, curve: "monotone-x", clip: true}),
    Plot.dot(blueMk, {x: X, y: Y, symbol: diamondSym, r: 3.1, fill: BLUE, clip: true}),
    Plot.line(red, {x: X, y: Y, stroke: RED, strokeWidth: 2, curve: "monotone-x", clip: true}),
    Plot.dot(redMk, {x: X, y: Y, symbol: "square", r: 3.1, fill: RED, clip: true}),
    Plot.ruleX([0], {stroke: "#000", strokeWidth: 2}),
    Plot.ruleY([1e-6], {stroke: "#000", strokeWidth: 2}),
    Plot.text(xMajor, {x: d => d, frameAnchor: "bottom", dy: 14, text: (d, i) => xLabels[i], fontSize: 15, fill: "#333"}),
    Plot.text(yMajor, {y: d => d, frameAnchor: "left", dx: -6, textAnchor: "end", text: (d, i) => "10^" + yLabels[i], fontSize: 15, fill: "#333"}),
    Plot.text(["Time (hours)"], {frameAnchor: "bottom", dy: 32, text: d => d, fontWeight: "bold", fontSize: 18.5, fill: "#111"}),
    Plot.text(["|Percent Error|"], {frameAnchor: "left", dx: -43, rotate: -90, textAnchor: "middle", text: d => d, fontWeight: "bold", fontSize: 18.5, fill: "#111"})
  ];
  if (p.ann) {
    marks.push(Plot.ruleY(p.ann, {y: d => d, x1: 0, x2: p.annEnd, stroke: "#000", strokeWidth: 2}));
    marks.push(Plot.text(p.ann, {y: d => d, x: p.annText, text: (d, i) => annLabels[i], textAnchor: "start", fontWeight: "bold", fontSize: 14.5, fill: "#111"}));
  }
  const svg = Plot.plot({
    width: mL + iw + mR, height: mT + ih + mB,
    marginLeft: mL, marginRight: mR, marginTop: mT, marginBottom: mB,
    x: {domain: [0, 10], axis: null},
    y: {type: "log", domain: [1e-6, 10], axis: null},
    style: {fontFamily: FONT, background: "transparent", overflow: "visible"},
    marks
  });
  svg.style.left = (p.x0 - mL) + "px";
  svg.style.top = (p.ytop - mT) + "px";
  svg.querySelectorAll("text").forEach(t => {
    const m = /^10\^(-?\d)$/.exec(t.textContent);
    if (m) {
      while (t.firstChild) t.removeChild(t.firstChild);
      t.appendChild(document.createTextNode("10"));
      const sup = document.createElementNS("http://www.w3.org/2000/svg", "tspan");
      sup.setAttribute("dy", "-0.55em");
      sup.setAttribute("font-size", "10");
      sup.textContent = m[1];
      t.appendChild(sup);
    }
  });
  document.body.appendChild(svg);
  drawLegend(p.leg[0], p.leg[1]);
}

function drawLegend(x, y) {
  const colors = [BLUE, RED, GREEN];
  const syms = [diamondSym, d3.symbolSquare, d3.symbolTriangle];
  const sizes = [30, 34, 16];
  const svg = d3.create("svg").attr("width", 280).attr("height", 60)
    .style("left", (x - 5) + "px").style("top", (y - 10) + "px");
  seriesNames.forEach((name, i) => {
    const yy = 10 + i * 19;
    svg.append("line").attr("x1", 5).attr("x2", 80).attr("y1", yy).attr("y2", yy).attr("stroke", colors[i]).attr("stroke-width", 2.2);
    svg.append("path").attr("d", d3.symbol(syms[i], sizes[i])()).attr("transform", `translate(42.5,${yy})`).attr("fill", colors[i]);
    svg.append("text").attr("x", 88).attr("y", yy).attr("dy", "0.36em").attr("font-family", FONT).attr("font-size", 15.5).attr("font-weight", "bold").attr("fill", "#111").text(name);
  });
  document.body.appendChild(svg.node());
}

panels.forEach(drawPanel);
</script>
</body></html>
